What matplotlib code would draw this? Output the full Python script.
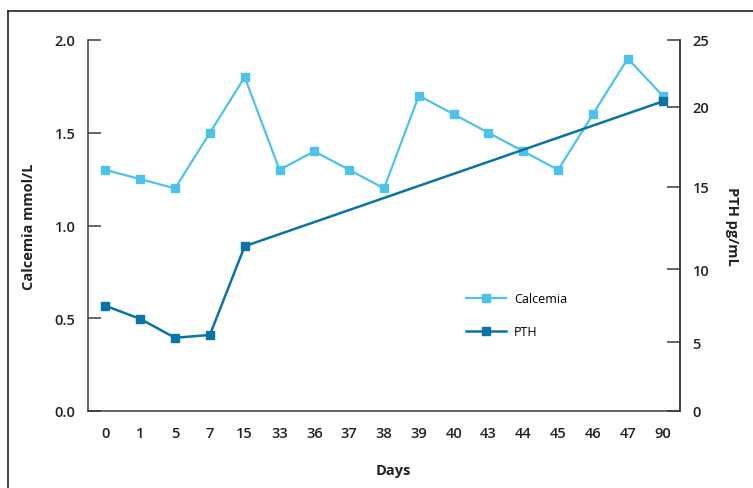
import numpy as np
import matplotlib
matplotlib.use('Agg')
import matplotlib.pyplot as plt
from matplotlib.lines import Line2D

plt.rcParams['font.family'] = ['Open Sans', 'DejaVu Sans']

# Dati
days = ['0', '1', '5', '7', '15', '33', '36', '37', '38', '39', '40', '43', '44', '45', '46', '47', '90']
calcemia = [1.3, 1.25, 1.2, 1.5, 1.8, 1.3, 1.4, 1.3, 1.2, 1.7, 1.6, 1.5, 1.4, 1.3, 1.6, 1.9, 1.7]
pth_days = ['0', '1', '5', '7', '15', '90']
pth = [7.5, 6.6, 5.3, 5.5, 11.4, 20.4]

# scala destra non uniforme come nell'originale
pth_ticks = [0, 5, 10, 15, 20, 25]
pth_pos = [0, 69, 142, 225, 305, 372]

c_light = '#4EC3EA'
c_dark = '#0A74A6'
spine_c = '#3a3a3a'

fig = plt.figure(figsize=(7.53, 4.89), dpi=100)
ax = fig.add_axes([88 / 753, 77 / 489, 592 / 753, 371 / 489])
ax2 = ax.twinx()

x = np.arange(len(days))
xp = [days.index(d) for d in pth_days]

ax.plot(x, calcemia, color=c_light, lw=1.6, marker='s', ms=6, label='Calcemia', zorder=3)
ax2.plot(xp, pth, color=c_dark, lw=1.8, marker='s', ms=6, label='PTH', zorder=3)

ax.set_xlim(-0.5, len(days) - 0.5)
ax.set_ylim(0, 2.0)
ax.set_yticks([0, 0.5, 1.0, 1.5, 2.0])
ax.set_yticklabels(['0.0', '0.5', '1.0', '1.5', '2.0'])
ax.set_xticks(x)
ax.set_xticklabels(days)
ax.set_xticks(np.arange(0.5, len(days) - 1, 1), minor=True)

ax2.set_yscale('function', functions=(lambda v: np.interp(v, pth_ticks, pth_pos),
                                      lambda p: np.interp(p, pth_pos, pth_ticks)))
ax2.set_ylim(0, 25)
ax2.set_yticks(pth_ticks)
ax2.minorticks_off()

for a in (ax, ax2):
    a.spines['top'].set_visible(False)
    for s in a.spines.values():
        s.set_color(spine_c)
        s.set_linewidth(1.1)
ax2.spines['left'].set_visible(False)
ax2.spines['bottom'].set_visible(False)

ax.tick_params(axis='y', direction='in', length=9.5, width=1.1, color=spine_c,
               labelsize=10.5, pad=9, labelcolor='#222222')
ax.tick_params(axis='x', which='major', length=0, labelsize=10.5, pad=11, labelcolor='#222222')
ax.tick_params(axis='x', which='minor', direction='in', length=6, width=1.1, color=spine_c)
ax2.tick_params(axis='y', direction='in', length=9.5, width=1.1, color=spine_c,
                labelsize=10.5, pad=9, labelcolor='#222222')

for lab in ax.get_yticklabels() + ax2.get_yticklabels():
    lab.set_fontweight('semibold')
for lab in ax.get_xticklabels():
    lab.set_fontweight('semibold')

ax.set_ylabel('Calcemia mmol/L', fontsize=10.5, fontweight='bold', color='#222222')
ax.yaxis.set_label_coords(-0.087, 0.5)
ax.set_xlabel('Days', fontsize=10.5, fontweight='bold', color='#222222')
ax.xaxis.set_label_coords(0.515, -0.14)
ax2.set_ylabel('PTH pg/mL', fontsize=10.5, fontweight='bold', color='#222222', rotation=270)
ax2.yaxis.set_label_coords(1.1, 0.5)

h1, l1 = ax.get_legend_handles_labels()
h2, l2 = ax2.get_legend_handles_labels()
ax.legend(h1 + h2, l1 + l2, loc='upper left', bbox_to_anchor=(0.62, 0.35), frameon=False,
          fontsize=9, handlelength=3.2, labelspacing=1.6, handletextpad=0.6)

# cornice esterna (solo lato superiore e sinistro visibili)
fig.add_artist(Line2D([8 / 753, 1.0], [1 - 12 / 489, 1 - 12 / 489], color='#222222', lw=1.2))
fig.add_artist(Line2D([8 / 753, 8 / 753], [0, 1 - 12 / 489], color='#222222', lw=1.2))

plt.savefig('out.png', dpi=100)
